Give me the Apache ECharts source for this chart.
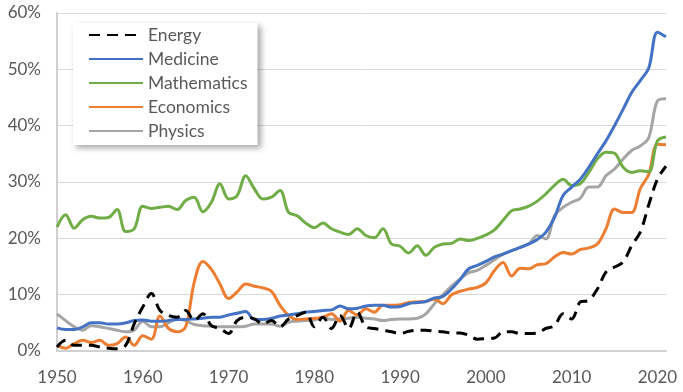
<!DOCTYPE html>
<html>
<head>
<meta charset="utf-8">
<script src="https://cdn.jsdelivr.net/npm/echarts@6/dist/echarts.min.js"></script>
<style>
html,body{margin:0;padding:0;background:#fff;}
#chart{width:683px;height:392px;}
</style>
</head>
<body>
<div id="chart"></div>
<script>
const years = [];
for (let y = 1950; y <= 2021; y++) years.push(y);
const xTicks = [1950, 1960, 1970, 1980, 1990, 2000, 2010, 2020];
const yTicks = ['0%', '10%', '20%', '30%', '40%', '50%', '60%'];

const energy = [0.7,1.9,1.0,1.0,1.0,0.7,0.5,0.4,1.0,4.8,
  7.8,10.2,7.2,6.3,6.0,7.2,5.4,6.6,4.5,4.0,
  3.1,5.4,6.0,5.7,4.8,5.4,4.3,5.7,6.3,6.9,
  4.3,6.0,4.0,6.3,4.0,6.9,4.3,4.0,3.7,3.4,
  3.1,3.5,3.7,3.7,3.5,3.4,3.2,3.2,2.8,2.1,
  2.2,2.3,3.4,3.4,3.1,3.1,3.2,4.0,4.5,6.6,
  5.7,8.7,9.0,11.0,14.0,14.9,15.8,18.7,21.1,26.0,
  30.5,32.8];
const medicine = [4.1,3.8,3.8,4.3,5.0,5.0,4.8,4.8,5.0,5.4,
  5.5,5.3,5.3,5.4,5.6,5.6,5.7,5.8,6.0,6.0,
  6.4,6.7,7.0,5.6,5.6,5.8,6.2,6.4,6.6,6.9,
  7.0,7.2,7.3,8.0,7.5,7.6,8.0,8.1,8.1,7.8,
  7.9,8.4,8.6,8.8,9.4,9.7,11.0,12.7,14.6,15.2,
  15.9,16.7,17.2,17.8,18.4,19.0,19.8,21.1,23.7,27.6,
  29.1,30.5,32.6,35.0,37.3,40.0,42.9,45.9,48.0,50.3,
  56.6,55.8];
const mathematics = [22.0,24.2,21.8,23.3,23.9,23.6,23.7,25.1,21.2,21.7,
  25.7,25.3,25.5,25.7,25.1,26.7,27.3,24.7,26.4,29.7,
  27.0,27.6,31.1,28.8,27.0,27.3,28.5,24.6,24.0,22.7,
  21.9,22.7,21.7,21.1,20.7,21.7,20.5,20.1,21.7,19.0,
  18.6,17.4,18.7,17.0,18.4,19.0,19.1,19.9,19.6,20.0,
  20.6,21.5,23.2,24.9,25.2,25.7,26.6,27.9,29.4,30.5,
  29.4,29.7,31.7,34.1,35.3,35.1,32.6,31.7,32.0,31.8,
  37.3,38.0];
const economics = [1.0,0.5,1.3,1.9,1.5,1.9,1.0,1.3,2.5,1.0,
  2.7,2.1,6.2,4.0,3.4,4.3,12.2,15.9,14.5,11.9,
  9.3,10.5,11.9,11.5,11.2,10.6,8.1,6.3,5.6,5.7,
  5.8,6.0,6.6,5.3,7.2,6.4,7.5,6.9,8.1,8.1,
  8.2,8.6,8.7,8.8,9.2,8.4,10.0,10.6,11.0,11.3,
  12.1,14.3,15.7,13.3,14.7,14.6,15.3,15.5,16.7,17.5,
  17.2,18.0,18.3,19.0,21.7,25.2,24.6,24.6,28.8,31.4,
  36.7,36.6];
const physics = [6.6,5.4,4.3,3.7,4.5,4.3,4.0,3.7,3.4,3.7,
  5.3,4.3,4.3,5.0,5.7,5.4,4.7,4.5,4.4,4.3,
  4.3,4.3,4.4,4.8,4.8,4.8,4.4,5.1,5.3,5.4,
  5.5,6.0,5.6,5.7,5.8,6.0,5.8,5.7,5.4,5.6,
  5.7,5.7,5.8,6.6,8.4,10.0,11.5,12.8,13.9,14.3,
  15.2,16.2,17.2,17.8,18.4,19.0,20.5,19.9,24.0,25.5,
  26.4,27.1,29.1,29.1,31.1,32.3,34.1,35.6,36.4,37.9,
  44.4,44.8];

const seriesNames = ['Energy', 'Medicine', 'Mathematics', 'Economics', 'Physics'];
const seriesData = [energy, medicine, mathematics, economics, physics];
const seriesColors = ['#000000', '#4472C4', '#70AD47', '#ED7D31', '#A5A5A5'];

const font = 'Lato, "Liberation Sans", sans-serif';
const chart = echarts.init(document.getElementById('chart'), null, {renderer: 'canvas'});

const series = seriesNames.map((name, i) => ({
  name: name,
  type: 'line',
  data: years.map((y, j) => [y, seriesData[i][j]]),
  smooth: 0.35,
  symbol: 'none',
  showSymbol: false,
  z: i === 0 ? 10 : 5 - i,
  lineStyle: {
    color: seriesColors[i],
    width: 3,
    type: i === 0 ? [11, 7] : 'solid',
    cap: 'butt'
  },
  itemStyle: { color: seriesColors[i] },
  emphasis: { disabled: true }
}));

chart.setOption({
  animation: false,
  backgroundColor: '#ffffff',
  grid: { left: 57, right: 17, top: 13, bottom: 41, containLabel: false },
  legend: {
    orient: 'vertical',
    left: 73,
    top: 23,
    data: seriesNames,
    backgroundColor: '#ffffff',
    padding: [2, 10, 4, 15],
    itemWidth: 54,
    itemHeight: 10,
    itemGap: 4,
    itemStyle: { opacity: 0 },
    shadowColor: 'rgba(0,0,0,0.35)',
    shadowBlur: 6,
    shadowOffsetX: 3,
    shadowOffsetY: 3,
    textStyle: { fontFamily: font, fontSize: 17.5, color: '#595959', lineHeight: 20 }
  },
  xAxis: {
    type: 'value',
    min: 1950,
    max: 2021,
    interval: 10,
    axisLine: { show: true, lineStyle: { color: '#d0d0d0', width: 2 } },
    axisTick: { show: false },
    splitLine: { show: false },
    axisLabel: {
      fontFamily: font, fontSize: 17, color: '#595959', margin: 18,
      showMaxLabel: false,
      formatter: v => (xTicks.indexOf(v) >= 0 ? String(v) : '')
    }
  },
  yAxis: {
    type: 'value',
    min: 0,
    max: 60,
    interval: 10,
    axisLine: { show: true, lineStyle: { color: '#d0d0d0', width: 2 } },
    axisTick: { show: false },
    splitLine: { show: true, lineStyle: { color: '#d9d9d9', width: 1 } },
    axisLabel: {
      fontFamily: font, fontSize: 17, color: '#595959', margin: 16,
      formatter: v => yTicks[Math.round(v / 10)]
    }
  },
  series: series
});
</script>
</body>
</html>
